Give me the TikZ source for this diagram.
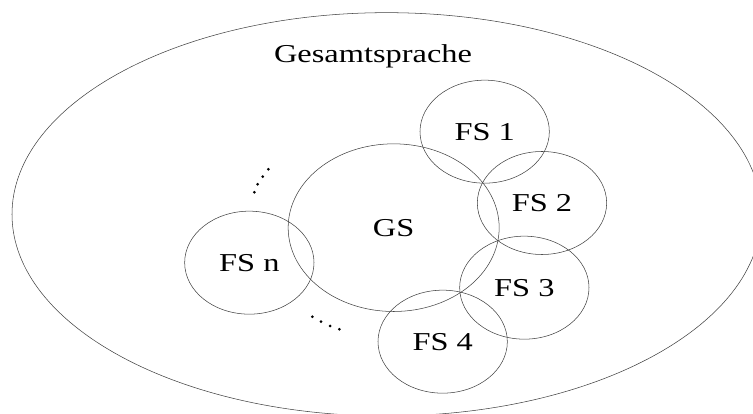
\documentclass[tikz,border=0pt]{standalone}
\usepackage{fontspec}
\setmainfont{Liberation Serif}[FakeStretch=1.257]
\usepackage{tikz}
\usetikzlibrary{shapes.geometric}

\tikzset{
  ring/.style={draw=black!75, line width=0.45pt},
  fs/.style={ring, ellipse, inner sep=0pt, minimum width=3.88cm, minimum height=3.09cm},
  gsnode/.style={ring, ellipse, inner sep=0pt, minimum width=6.33cm, minimum height=5.03cm},
  lbl/.style={font=\fontsize{22}{26}\selectfont}
}

\begin{document}
\begin{tikzpicture}
  \path[use as bounding box, clip] (0,0) rectangle (22.59,-12.42);
  \draw[ring] (11.60,-6.43) ellipse [x radius=11.24, y radius=6.05];
  \node[lbl, anchor=base] (gesamt) at (11.19,-1.88) {Gesamtsprache};

  \node[gsnode, lbl] (gs)  at (11.81,-6.83) {GS};
  \node[fs, lbl]     (fs1) at (14.54,-3.95) {FS 1};
  \node[fs, lbl]     (fs2) at (16.26,-6.09) {FS 2};
  \node[fs, lbl]     (fs3) at (15.73,-8.63) {FS 3};
  \node[fs, lbl]     (fs4) at (13.28,-10.25) {FS 4};
  \node[fs, lbl]     (fsn) at (7.48,-7.88) {FS n};

  % dots between FS n and FS 1 / FS 4
  \foreach \p in {(8.05,-5.08),(7.88,-5.30),(7.73,-5.53),(7.63,-5.77),
                  (9.37,-9.50),(9.63,-9.65),(9.90,-9.78),(10.18,-9.88)}
    \fill \p circle (0.045);
\end{tikzpicture}
\end{document}
